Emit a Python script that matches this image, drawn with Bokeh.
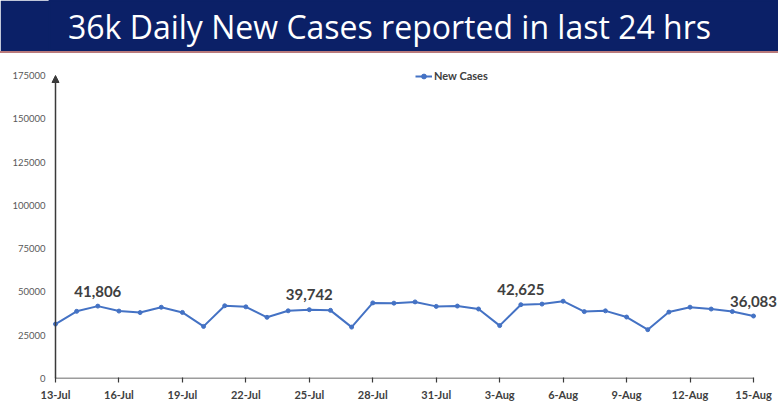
from bokeh.plotting import figure
from bokeh.layouts import column
from bokeh.models import (Range1d, FixedTicker, Label, LabelSet, ColumnDataSource,
                          Arrow, NormalHead, Legend, LegendItem, NumeralTickFormatter,
                          Div)
from bokeh.core.properties import value
from bokeh.embed import file_html
from bokeh.resources import INLINE

# ---------------- data ----------------
title_text = "36k Daily New Cases reported in last 24 hrs"
series_name = "New Cases"

dates = ["13-Jul", "14-Jul", "15-Jul", "16-Jul", "17-Jul", "18-Jul", "19-Jul",
         "20-Jul", "21-Jul", "22-Jul", "23-Jul", "24-Jul", "25-Jul", "26-Jul",
         "27-Jul", "28-Jul", "29-Jul", "30-Jul", "31-Jul", "1-Aug", "2-Aug",
         "3-Aug", "4-Aug", "5-Aug", "6-Aug", "7-Aug", "8-Aug", "9-Aug",
         "10-Aug", "11-Aug", "12-Aug", "13-Aug", "14-Aug", "15-Aug"]

new_cases = [31443, 38792, 41806, 38949, 38079, 41157, 38164,
             30093, 42015, 41383, 35342, 39097, 39742, 39361,
             29689, 43654, 43509, 44230, 41649, 41831, 40134,
             30549, 42625, 42982, 44643, 38628, 39070, 35499,
             28204, 38353, 41195, 40120, 38667, 36083]

tick_labels = ["13-Jul", "16-Jul", "19-Jul", "22-Jul", "25-Jul", "28-Jul",
               "31-Jul", "3-Aug", "6-Aug", "9-Aug", "12-Aug", "15-Aug"]

labelled_dates = ["15-Jul", "25-Jul", "4-Aug", "15-Aug"]

y_ticks = [0, 25000, 50000, 75000, 100000, 125000, 150000, 175000]

# ---------------- layout (pixels) ----------------
W, H = 778, 408
BANNER_H = 51          # navy band
RULE_H = 2             # pink rule under the band
CHART_H = H - BANNER_H - RULE_H
AXIS_X = 55            # page x of the y axis line
PAD = 6                # frame starts this far left of the y axis
LEFT = AXIS_X - PAD    # frame left edge
BOTTOM = 30            # space under the x axis
TOP = 5                # space above the (extended) frame
AXIS_W = 698           # drawn length of x axis
AXIS_H = 303           # drawn length of y axis
TITLE_CX = 389         # title centre (page x)
TITLE_CY = 26          # title centre (page y)

frame_w = W - LEFT
frame_h = CHART_H - TOP - BOTTOM

# ---------------- derived ----------------
xs = list(range(len(dates)))
tick_pos = [dates.index(t) for t in tick_labels]
lab_x = [dates.index(d) for d in labelled_dates]
lab_y = [new_cases[i] for i in lab_x]
lab_t = [f"{v:,}" for v in lab_y]

px_per_unit = AXIS_W / (xs[-1] - xs[0])
x_start = xs[0] - PAD / px_per_unit
x_end = xs[-1] + (W - AXIS_X - AXIS_W) / px_per_unit
y_end = y_ticks[-1] * frame_h / AXIS_H

NAVY = "#0b2067"
RULE = "#b97a7c"
LINE_COL = "#4472c4"
AXIS_COL = "#3a3a3a"
TXT_COL = "#404040"
FONT = "Lato"

# ---------------- banner ----------------
top = figure(width=W, height=BANNER_H, output_backend="svg",
             toolbar_location=None, x_range=Range1d(0, 1), y_range=Range1d(0, 1),
             x_axis_type=None, y_axis_type=None, title=None,
             min_border_left=0, min_border_right=0, min_border_top=0,
             min_border_bottom=0)
top.background_fill_color = NAVY
top.border_fill_color = NAVY
top.outline_line_color = NAVY
top.outline_line_width = 2
top.xgrid.visible = False
top.ygrid.visible = False
top.add_layout(Label(x=TITLE_CX - LEFT, y=BANNER_H - TITLE_CY,
                     x_units="screen", y_units="screen",
                     text=title_text, text_align="center", text_baseline="middle",
                     text_color="white", text_font="Open Sans",
                     text_font_size="32px"))

rule = Div(text="", width=W, height=RULE_H,
           styles={"background-color": RULE, "overflow": "hidden",
                   "margin": "0", "padding": "0"})

# ---------------- chart ----------------
p = figure(width=W, height=CHART_H, output_backend="svg", toolbar_location=None,
           title=None,
           x_range=Range1d(x_start, x_end), y_range=Range1d(y_ticks[0], y_end),
           min_border_left=LEFT, min_border_right=0, min_border_top=TOP,
           min_border_bottom=BOTTOM)
p.outline_line_color = None
p.xgrid.visible = False
p.ygrid.visible = False
p.background_fill_color = "white"
p.border_fill_color = "white"

src = ColumnDataSource(dict(x=xs, y=new_cases))
line_r = p.line("x", "y", source=src, line_color=LINE_COL, line_width=2)
dot_r = p.scatter("x", "y", source=src, size=4, fill_color=LINE_COL,
                  line_color=LINE_COL)

# axes (axis lines drawn as arrows so they stop where the reference's do)
p.xaxis.ticker = FixedTicker(ticks=tick_pos)
p.xaxis.major_label_overrides = {pos: lab for pos, lab in zip(tick_pos, tick_labels)}
p.xaxis.major_tick_out = 4
p.xaxis.major_tick_in = 1
p.xaxis.minor_tick_line_color = None
p.xaxis.major_label_standoff = 5
p.xaxis.major_label_text_font = FONT
p.xaxis.major_label_text_font_style = "bold"
p.xaxis.major_label_text_font_size = "11px"
p.xaxis.major_label_text_color = TXT_COL
p.xaxis.axis_line_color = None
p.xaxis.major_tick_line_color = AXIS_COL
p.xaxis.major_tick_line_width = 1.2

p.yaxis.ticker = FixedTicker(ticks=y_ticks)
p.yaxis.formatter = NumeralTickFormatter(format="0")
p.yaxis.major_tick_out = 0
p.yaxis.major_tick_in = 0
p.yaxis.minor_tick_line_color = None
p.yaxis.major_label_standoff = 4
p.yaxis.major_label_text_font = FONT
p.yaxis.major_label_text_font_size = "9.5px"
p.yaxis.major_label_text_color = "#595959"
p.yaxis.axis_line_color = None

p.add_layout(Arrow(end=None, x_start=xs[0], y_start=y_ticks[0],
                   x_end=xs[-1], y_end=y_ticks[0], line_color=AXIS_COL,
                   line_width=1.5))
p.add_layout(Arrow(end=NormalHead(size=7, fill_color=AXIS_COL, line_color=AXIS_COL,
                                  line_width=1),
                   x_start=xs[0], y_start=y_ticks[0],
                   x_end=xs[0], y_end=y_ticks[-1], line_color=AXIS_COL,
                   line_width=1.5))

# data labels
lsrc = ColumnDataSource(dict(x=lab_x, y=lab_y, t=lab_t))
p.add_layout(LabelSet(x="x", y="y", text="t", source=lsrc, y_offset=15,
                      text_align="center", text_baseline="middle",
                      text_font=value(FONT), text_font_style="bold",
                      text_font_size="15px", text_color=TXT_COL))

# legend
legend = Legend(items=[LegendItem(label=series_name, renderers=[line_r, dot_r])],
                location=(360 + PAD, 296), padding=0, margin=0, spacing=0,
                glyph_width=17, glyph_height=12, label_height=12,
                label_standoff=2, label_text_font=FONT,
                label_text_font_style="bold", label_text_font_size="11px",
                label_text_color=TXT_COL, background_fill_alpha=0,
                border_line_color=None)
p.add_layout(legend)

page = column(top, rule, p, spacing=0)
open("out.html", "w").write(file_html(page, INLINE))
